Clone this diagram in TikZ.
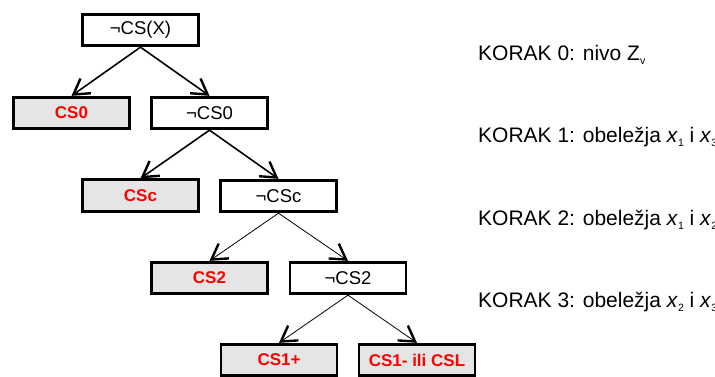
\documentclass[tikz,border=0pt]{standalone}
\usepackage{fontspec}
\setmainfont{Liberation Sans}
\usetikzlibrary{arrows.meta}
\definecolor{leafgray}{RGB}{229,229,229}
\newcommand\sbx[1]{\raisebox{-0.22em}{\fontsize{10.5pt}{10.5pt}\selectfont #1}}
\begin{document}
\begin{tikzpicture}[x=1pt,y=-1pt,
  box/.style={draw=black,line width=2.8pt,minimum width=116pt,minimum height=31.5pt,inner sep=0pt,fill=white,font=\fontsize{18.5pt}{20pt}\selectfont},
  leaf/.style={box,fill=leafgray,text=red,font=\fontsize{17pt}{20pt}\selectfont\bfseries},
  thickarr/.style={line width=1.6pt,-{Straight Barb[length=15pt,width=18pt,line width=2.4pt]}},
  thinarr/.style={line width=0.8pt,-{Straight Barb[length=15pt,width=18pt,line width=2.4pt]}},
  korak/.style={anchor=base west,font=\fontsize{21pt}{23pt}\selectfont,inner sep=0pt}]
\useasboundingbox (0,0) rectangle (715,376);
\fill[white] (0,0) rectangle (715,376);
% tree
\node[box]  (root) at (140.5,30)  {¬CS(X)};
\node[leaf] (cs0)  at (71.5,113)  {CS0};
\node[box]  (ncs0) at (209.5,113) {¬CS0};
\node[leaf] (csc)  at (140.5,195.5) {CSc};
\node[box]  (ncsc) at (278.5,196) {¬CSc};
\node[leaf] (cs2)  at (209.5,278) {CS2};
\node[box]  (ncs2) at (348,278)   {¬CS2};
\node[leaf] (cs1p) at (279,360)   {CS1+};
\node[leaf] (cs1m) at (417,360)   {CS1- ili CSL};
% connectors
\draw[thickarr] (root.south) -- (cs0.north);
\draw[thickarr] (root.south) -- (ncs0.north);
\draw[thickarr] (ncs0.south) -- (csc.north);
\draw[thickarr] (ncs0.south) -- (ncsc.north);
\draw[thinarr] (ncsc.south) -- (cs2.north);
\draw[thinarr] (ncsc.south) -- (ncs2.north);
\draw[thinarr] (ncs2.south) -- (cs1p.north);
\draw[thinarr] (ncs2.south) -- (cs1m.north);
% step labels
\node[korak] (k0) at (478,60)  {KORAK 0: nivo Z\sbx{v}};
\node[korak] (k1) at (478,142) {KORAK 1: obeležja \textit{x}\sbx{1} i \textit{x}\sbx{3}};
\node[korak] (k2) at (478,225) {KORAK 2: obeležja \textit{x}\sbx{1} i \textit{x}\sbx{2}};
\node[korak] (k3) at (478,307) {KORAK 3: obeležja \textit{x}\sbx{2} i \textit{x}\sbx{3}};
\end{tikzpicture}
\end{document}
